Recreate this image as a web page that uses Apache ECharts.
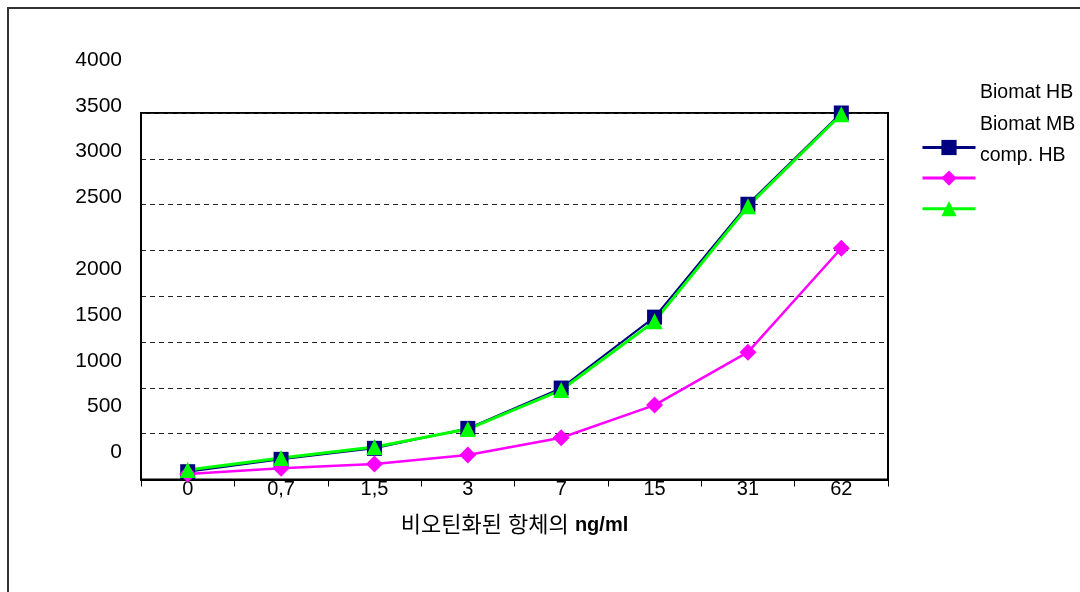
<!DOCTYPE html>
<html>
<head>
<meta charset="utf-8">
<script src="https://cdn.jsdelivr.net/npm/echarts@6/dist/echarts.min.js"></script>
<style>
    html, body { margin: 0; padding: 0; background: #fff; }
    #main { width: 1080px; height: 592px; }
</style>
</head>
<body>
<div id="main"></div>
<script type="text/javascript">
    // 카테고리와 값
    var categories = ['0', '0,7', '1,5', '3', '7', '15', '31', '62'];
    var seriesNames = ['Biomat HB', 'Biomat MB', 'comp. HB'];
    var biomatHB = [85, 220, 340, 558, 998, 1772, 3004, 4000];
    var biomatMB = [60, 122, 169, 267, 456, 812, 1390, 2524];
    var compHB = [104, 234, 354, 551, 976, 1728, 2983, 3986];
    var yMax = 4000;
    var yStep = 500;
    var axisTitle = '비오틴화된 항체의 ';
    var axisUnit = 'ng/ml';

    var FONT = "'Liberation Sans', Arial, 'Noto Sans CJK KR', sans-serif";

    var myChart = echarts.init(document.getElementById('main'));

    var option = {
        backgroundColor: '#fff',
        animation: false,
        textStyle: { fontFamily: FONT },
        graphic: [{
            type: 'rect',
            shape: { x: 8, y: 8, width: 1200, height: 700 },
            style: { fill: 'none', stroke: '#333', lineWidth: 2 },
            silent: true
        }],
        grid: {
            left: 141,
            top: 113,
            right: 192,
            bottom: 112.5,
            show: true,
            borderColor: '#000',
            borderWidth: 2,
            outerBoundsMode: 'none'
        },
        legend: [{
            data: seriesNames,
            orient: 'vertical',
            left: 921,
            top: 138,
            padding: 0,
            itemWidth: 53,
            itemHeight: 19,
            itemGap: 13.5,
            selectedMode: false,
            formatter: function () { return ''; },
            lineStyle: { width: 3 },
            textStyle: { fontSize: 12 }
        }, {
            data: seriesNames,
            orient: 'vertical',
            left: 974,
            top: 82,
            padding: 0,
            itemWidth: 0,
            itemHeight: 1,
            itemGap: 9.5,
            selectedMode: false,
            itemStyle: { opacity: 0 },
            lineStyle: { opacity: 0 },
            textStyle: { fontSize: 19.5, lineHeight: 22, color: '#000', fontFamily: FONT }
        }],
        xAxis: {
            type: 'category',
            data: categories,
            boundaryGap: true,
            axisLine: { lineStyle: { color: '#000', width: 2 } },
            axisTick: { show: true, interval: 0, length: 7, lineStyle: { color: '#000', width: 1 } },
            axisLabel: { interval: 0, margin: 0, color: '#000', fontSize: 20, fontFamily: FONT },
            splitLine: { show: false },
            name: '{n|' + axisTitle + '}{b|' + axisUnit + '}',
            nameLocation: 'middle',
            nameGap: 35,
            nameTextStyle: {
                rich: {
                    n: { fontSize: 22, color: '#000', fontFamily: FONT },
                    b: { fontSize: 20, color: '#000', fontWeight: 'bold', fontFamily: FONT }
                }
            }
        },
        yAxis: {
            type: 'value',
            min: 0,
            max: yMax,
            interval: yStep,
            axisLine: { show: true, lineStyle: { color: '#000', width: 2 } },
            axisTick: { show: false },
            axisLabel: {
                margin: 19,
                color: '#000',
                fontSize: 21,
                fontFamily: FONT,
                formatter: function (v) {
                    return (v >= 2500 ? '{u|' : '{v|') + v + '}';
                },
                rich: {
                    u: { fontSize: 21, color: '#000', fontFamily: FONT, padding: [0, 0, 106, 0] },
                    v: { fontSize: 21, color: '#000', fontFamily: FONT, padding: [0, 0, 54, 0] }
                }
            },
            splitLine: { show: true, lineStyle: { color: '#222', type: [5, 4], width: 1 } }
        },
        series: [{
            name: seriesNames[0],
            type: 'line',
            data: biomatHB,
            symbol: 'rect',
            symbolSize: 15,
            lineStyle: { color: '#000080', width: 2 },
            itemStyle: { color: '#000080' }
        }, {
            name: seriesNames[1],
            type: 'line',
            data: biomatMB,
            symbol: 'diamond',
            symbolSize: 17,
            lineStyle: { color: '#ff00ff', width: 2.5 },
            itemStyle: { color: '#ff00ff' }
        }, {
            name: seriesNames[2],
            type: 'line',
            data: compHB,
            symbol: 'triangle',
            symbolSize: 16,
            lineStyle: { color: '#00ff00', width: 3 },
            itemStyle: { color: '#00ff00' }
        }]
    };

    myChart.setOption(option);
</script>
</body>
</html>
